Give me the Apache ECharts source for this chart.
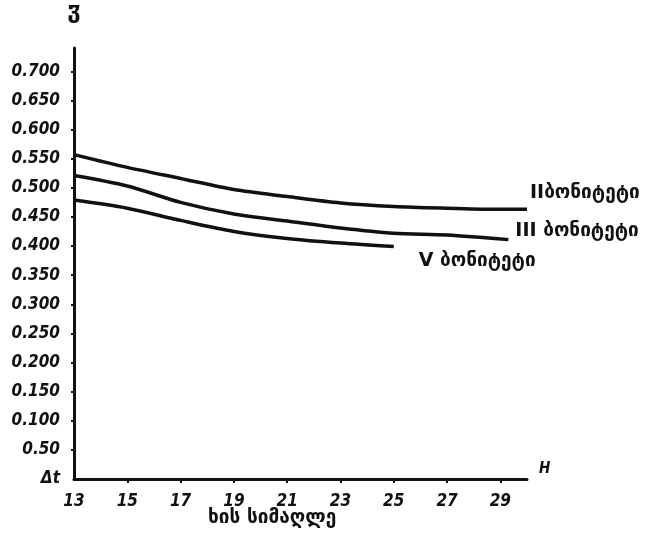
<!DOCTYPE html>
<html>
<head>
<meta charset="utf-8">
<script src="https://cdn.jsdelivr.net/npm/echarts@6/dist/echarts.min.js"></script>
<style>
  html, body { margin: 0; padding: 0; background: #fff; }
  #chart { width: 656px; height: 544px; }
</style>
</head>
<body>
<div id="chart"></div>
<script>
// Tree height (H) against form number for three site classes
const heightsII  = [13, 15, 17, 19, 21, 23, 25, 27, 29, 30];
const valuesII   = [0.557, 0.535, 0.516, 0.497, 0.485, 0.474, 0.468, 0.465, 0.463, 0.463];

const heightsIII = [13, 15, 17, 19, 21, 23, 25, 27, 29.3];
const valuesIII  = [0.521, 0.503, 0.475, 0.455, 0.443, 0.431, 0.422, 0.419, 0.411];

const heightsV   = [13, 15, 17, 19, 21, 23, 25];
const valuesV    = [0.479, 0.465, 0.444, 0.425, 0.413, 0.405, 0.399];

const seriesNames = ['IIბონიტეტი', 'III ბონიტეტი', 'V ბონიტეტი'];

const xTickValues = [13, 15, 17, 19, 21, 23, 25, 27, 29];
const xTickLabels = ['13', '15', '17', '19', '21', '23', '25', '27', '29'];

const yTickValues = [0, 0.05, 0.1, 0.15, 0.2, 0.25, 0.3, 0.35, 0.4, 0.45, 0.5, 0.55, 0.6, 0.65, 0.7];
const yTickLabels = ['Δt', '0.50', '0.100', '0.150', '0.200', '0.250', '0.300', '0.350',
                     '0.400', '0.450', '0.500', '0.550', '0.600', '0.650', '0.700'];

const xTitle = 'ხის სიმაღლე';
const xName = 'H';
const yName = 'ჳ';

const ink = '#111';
const numFont = "'DejaVu Sans Condensed', 'DejaVu Sans', sans-serif";
const textFont = "'DejaVu Sans', sans-serif";

function pairs(xs, ys) {
  return xs.map((x, i) => [x, ys[i]]);
}

function lineSeries(name, xs, ys, offset) {
  return {
    name: name,
    type: 'line',
    data: pairs(xs, ys),
    smooth: 0.3,
    symbol: 'none',
    lineStyle: { color: ink, width: 3.5 },
    endLabel: {
      show: true,
      formatter: name,
      color: ink,
      fontFamily: textFont,
      fontSize: 19,
      fontWeight: 'bold',
      offset: offset,
      distance: 3
    },
    silent: true
  };
}

const chart = echarts.init(document.getElementById('chart'), null, { renderer: 'canvas' });

chart.setOption({
  animation: false,
  backgroundColor: '#fff',
  title: {
    text: xTitle,
    left: 203,
    top: 504,
    textStyle: { color: ink, fontFamily: textFont, fontSize: 19, fontWeight: 'bold' }
  },
  grid: { left: 74, top: 48, width: 453, height: 431, containLabel: false },
  xAxis: {
    type: 'value',
    min: 13,
    max: 30,
    name: xName,
    nameLocation: 'end',
    nameGap: 12,
    nameTextStyle: {
      color: ink, fontFamily: numFont, fontSize: 15, fontWeight: 'bold',
      fontStyle: 'italic', verticalAlign: 'bottom', padding: [0, 0, 2, 0]
    },
    axisLine: { show: true, lineStyle: { color: ink, width: 3 } },
    axisTick: { show: true, customValues: xTickValues.slice(1), length: 4, lineStyle: { color: ink, width: 2 } },
    axisLabel: {
      customValues: xTickValues,
      formatter: v => xTickLabels[xTickValues.indexOf(v)] || '',
      color: ink, fontFamily: numFont, fontSize: 17, fontWeight: 'bold', fontStyle: 'italic',
      margin: 14
    },
    splitLine: { show: false }
  },
  yAxis: {
    type: 'value',
    min: 0,
    max: 0.74,
    name: yName,
    nameLocation: 'end',
    nameGap: 24,
    nameTextStyle: { color: ink, fontFamily: textFont, fontSize: 24, fontWeight: 'bold' },
    axisLine: { show: true, lineStyle: { color: ink, width: 3 } },
    axisTick: { show: true, customValues: yTickValues.slice(1), length: 3, lineStyle: { color: ink, width: 2 } },
    axisLabel: {
      customValues: yTickValues,
      formatter: v => {
        const i = yTickValues.findIndex(t => Math.abs(t - v) < 1e-9);
        return i >= 0 ? yTickLabels[i] : '';
      },
      color: ink, fontFamily: numFont, fontSize: 17, fontWeight: 'bold', fontStyle: 'italic',
      margin: 14
    },
    splitLine: { show: false }
  },
  series: [
    lineSeries(seriesNames[0], heightsII, valuesII, [0, -16]),
    lineSeries(seriesNames[1], heightsIII, valuesIII, [4, -9]),
    lineSeries(seriesNames[2], heightsV, valuesV, [22, 14])
  ]
});
</script>
</body>
</html>
